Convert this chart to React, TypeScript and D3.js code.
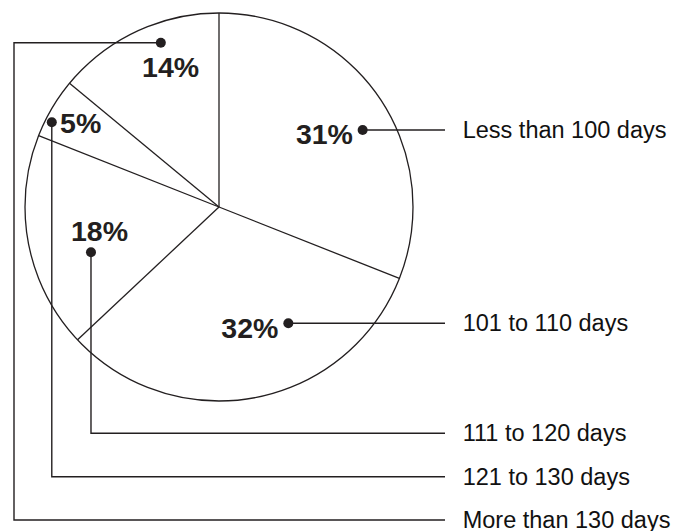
import React from "react";
import * as d3 from "d3";

// ---- data ----
const categories = [
  "Less than 100 days",
  "101 to 110 days",
  "111 to 120 days",
  "121 to 130 days",
  "More than 130 days",
];
const shares = [31, 32, 18, 5, 14];

// ---- layout (not data) ----
const W = 674;
const H = 531;
const CX = 219;
const CY = 207;
const R = 194;
const INK = "#231f20";
// leader dot placement: polar angle (deg from 12 o'clock, clockwise) and distance from centre
const dotAngle = [61.8, 149.2, 250.5, 296.9, 340.5];
const dotDist = [163, 135.4, 135.8, 187.5, 174.3];
// percent text offset from the dot
const textDx = [-9.7, -10, -20, 8.3, -18.7];
const textDy = [14, 14.4, -11.3, 11, 34.3];
const textAnchor = ["end", "end", "start", "start", "start"];
// leader routing: "h" straight to legend, "v" down then right, "lv" left, down, right
const route = ["h", "h", "v", "v", "lv"];
const legendRowY = [null, null, 433.3, 476.7, 520];
const leftRailX = 14;
const lineEndX = 445;
const legendTextX = 462.7;

export default function App() {
  const pie = d3
    .pie<number>()
    .sort(null)
    .value((d) => d);
  const arcs = pie(shares);
  const rad = (deg: number) => (deg * Math.PI) / 180;

  const dots = shares.map((_, i) => {
    const a = rad(dotAngle[i]);
    return [CX + dotDist[i] * Math.sin(a), CY - dotDist[i] * Math.cos(a)];
  });

  return (
    <svg
      width={W}
      height={H}
      style={{ position: "absolute", left: 0, top: 0, display: "block", background: "#fff" }}
      fontFamily="'Liberation Sans', Arial, Helvetica, sans-serif"
    >
      <circle cx={CX} cy={CY} r={R} fill="none" stroke={INK} strokeWidth={1.3} />
      {arcs.map((a, i) => (
        <line
          key={"sep" + i}
          x1={CX}
          y1={CY}
          x2={CX + R * Math.sin(a.startAngle)}
          y2={CY - R * Math.cos(a.startAngle)}
          stroke={INK}
          strokeWidth={1.3}
        />
      ))}
      {shares.map((v, i) => {
        const [x, y] = dots[i];
        let rowY: number;
        let pts: [number, number][];
        if (route[i] === "h") {
          rowY = y;
          pts = [
            [x, y],
            [lineEndX, y],
          ];
        } else if (route[i] === "v") {
          rowY = legendRowY[i] as number;
          pts = [
            [x, y],
            [x, rowY],
            [lineEndX, rowY],
          ];
        } else {
          rowY = legendRowY[i] as number;
          pts = [
            [x, y],
            [leftRailX, y],
            [leftRailX, rowY],
            [lineEndX, rowY],
          ];
        }
        const path = d3.line()(pts) as string;
        return (
          <g key={"lbl" + i}>
            <path d={path} fill="none" stroke={INK} strokeWidth={1.4} />
            <circle cx={x} cy={y} r={5} fill={INK} />
            <text
              x={x + textDx[i]}
              y={y + textDy[i]}
              textAnchor={textAnchor[i] as any}
              fontWeight="bold"
              fontSize={28.5}
              fill={INK}
            >
              {v}%
            </text>
            <text x={legendTextX} y={rowY + 7.8} fontSize={23.5} fill="#111">
              {categories[i]}
            </text>
          </g>
        );
      })}
    </svg>
  );
}
